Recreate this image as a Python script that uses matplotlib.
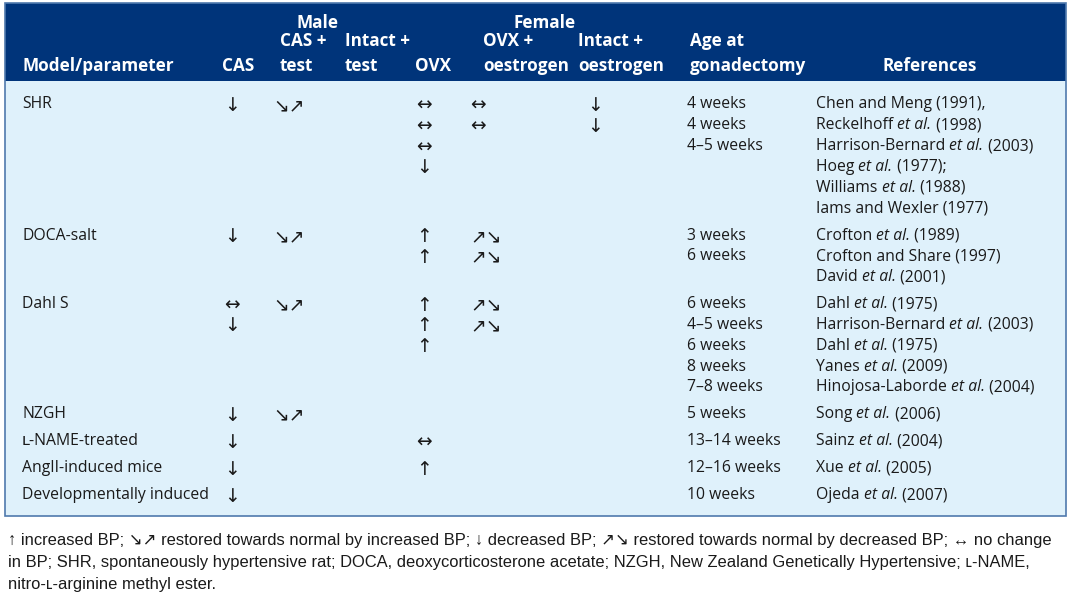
import matplotlib
matplotlib.use("Agg")
import matplotlib.pyplot as plt
from matplotlib.patches import Rectangle
from matplotlib import font_manager

W, H = 1070, 595
BODY_FONT = ["Open Sans", "DejaVu Sans"]
ARROW_FONT = ["DejaVu Sans"]
names = {f.name for f in font_manager.fontManager.ttflist}
NARROW = "Liberation Sans Narrow" if "Liberation Sans Narrow" in names else "Liberation Sans"

# ---------------- data ----------------
header_groups = ["Male", "Female"]
header_cols = ["Model/parameter", "CAS", "CAS +\ntest", "Intact +\ntest", "OVX",
               "OVX +\noestrogen", "Intact +\noestrogen", "Age at\ngonadectomy", "References"]
group_sizes = [6, 3, 5, 1, 1, 1, 1]
models = ["SHR", "", "", "", "", "",
          "DOCA-salt", "", "",
          "Dahl S", "", "", "", "",
          "NZGH", "ʟ-NAME-treated", "AngII-induced mice", "Developmentally induced"]
cas = ["↓", "", "", "", "", "",
       "↓", "", "",
       "↔", "↓", "", "", "",
       "↓", "↓", "↓", "↓"]
cas_test = ["↘↗", "", "", "", "", "",
            "↘↗", "", "",
            "↘↗", "", "", "", "",
            "↘↗", "", "", ""]
intact_test = [""] * 18
ovx = ["↔", "↔", "↔", "↓", "", "",
       "↑", "↑", "",
       "↑", "↑", "↑", "", "",
       "", "↔", "↑", ""]
ovx_oestrogen = ["↔", "↔", "", "", "", "",
                 "↗↘", "↗↘", "",
                 "↗↘", "↗↘", "", "", "",
                 "", "", "", ""]
intact_oestrogen = ["↓", "↓", "", "", "", "",
                    "", "", "",
                    "", "", "", "", "",
                    "", "", "", ""]
age = ["4 weeks", "4 weeks", "4–5 weeks", "", "", "",
       "3 weeks", "6 weeks", "",
       "6 weeks", "4–5 weeks", "6 weeks", "8 weeks", "7–8 weeks",
       "5 weeks", "13–14 weeks", "12–16 weeks", "10 weeks"]
references = ["Chen and Meng (1991),",
              "Reckelhoff et al. (1998)",
              "Harrison-Bernard et al. (2003)",
              "Hoeg et al. (1977);",
              "Williams et al. (1988)",
              "Iams and Wexler (1977)",
              "Crofton et al. (1989)",
              "Crofton and Share (1997)",
              "David et al. (2001)",
              "Dahl et al. (1975)",
              "Harrison-Bernard et al. (2003)",
              "Dahl et al. (1975)",
              "Yanes et al. (2009)",
              "Hinojosa-Laborde et al. (2004)",
              "Song et al. (2006)",
              "Sainz et al. (2004)",
              "Xue et al. (2005)",
              "Ojeda et al. (2007)"]
footnote = ["↑ increased BP; ↘↗ restored towards normal by increased BP; ↓ decreased BP; ↗↘ restored towards normal by decreased BP; ↔ no change",
            "in BP; SHR, spontaneously hypertensive rat; DOCA, deoxycorticosterone acetate; NZGH, New Zealand Genetically Hypertensive; ʟ-NAME,",
            "nitro-ʟ-arginine methyl ester."]

# ---------------- layout ----------------
NAVY = "#00347a"
LIGHT = "#dff1fb"
EDGE = "#4f79ad"
TXT = "#1a1a1a"

fig = plt.figure(figsize=(W / 100, H / 100), dpi=100)
ax = fig.add_axes([0, 0, 1, 1])
ax.set_xlim(0, W)
ax.set_ylim(H, 0)
ax.axis("off")
renderer = fig.canvas.get_renderer()

tab_l, tab_r, tab_t, head_b, tab_b = 5, 1066, 3, 81, 516
ax.add_patch(Rectangle((tab_l, tab_t), tab_r - tab_l, head_b - tab_t, facecolor=NAVY, edgecolor="none"))
ax.add_patch(Rectangle((tab_l, head_b), tab_r - tab_l, tab_b - head_b, facecolor=LIGHT, edgecolor="none"))
ax.add_patch(Rectangle((tab_l, tab_t), tab_r - tab_l, tab_b - tab_t, facecolor="none", edgecolor=EDGE, lw=1.2))

hfs = 12.3
hkw = dict(color="white", fontweight="bold", family=BODY_FONT, fontsize=hfs, va="baseline", linespacing=1.5)
ax.text(318, 28, header_groups[0], ha="center", **hkw)
ax.text(545, 28, header_groups[1], ha="center", **hkw)
head_x = [22, 222, 280, 345, 415, 483, 578, 690, 930]
head_ha = ["left"] * 8 + ["center"]
for x, ha, lab in zip(head_x, head_ha, header_cols):
    ax.text(x, 71, lab, ha=ha, **hkw)

# row y positions
ys = []
y = 104.5
for g, n in enumerate(group_sizes):
    for i in range(n):
        ys.append(y)
        y += 20.8
    y += 27 - 20.8

bfs = 11.3
afs = 13.5
text_cols = [(22, models), (687, age)]
arrow_cols = [(224, cas), (273, cas_test), (345, intact_test), (416, ovx),
              (470, ovx_oestrogen), (587, intact_oestrogen)]
for x, col in text_cols:
    for yy, s in zip(ys, col):
        if s:
            ax.text(x, yy, s, ha="left", va="center", fontsize=bfs, family=BODY_FONT, color=TXT)
for x, col in arrow_cols:
    for yy, s in zip(ys, col):
        if s:
            ax.text(x, yy + 1, s, ha="left", va="center", fontsize=afs, family=ARROW_FONT, color=TXT)


def seg_text(x, yy, s):
    parts = s.split("et al.")
    segs = []
    for i, p in enumerate(parts):
        if i > 0:
            segs.append(("et al.", "italic"))
        if p:
            segs.append((p, "normal"))
    cx = x
    for txt, style in segs:
        t = ax.text(cx, yy, txt, ha="left", va="center", fontsize=bfs, family=BODY_FONT,
                    style=style, color=TXT)
        bb = t.get_window_extent(renderer=renderer)
        cx += bb.width


for yy, s in zip(ys, references):
    seg_text(816, yy, s)

for i, line in enumerate(footnote):
    ax.text(8, 541 + i * 21.5, line, ha="left", va="center", fontsize=11.9,
            family=[NARROW, "DejaVu Sans"], color=TXT)

fig.savefig("out.png", dpi=100)
